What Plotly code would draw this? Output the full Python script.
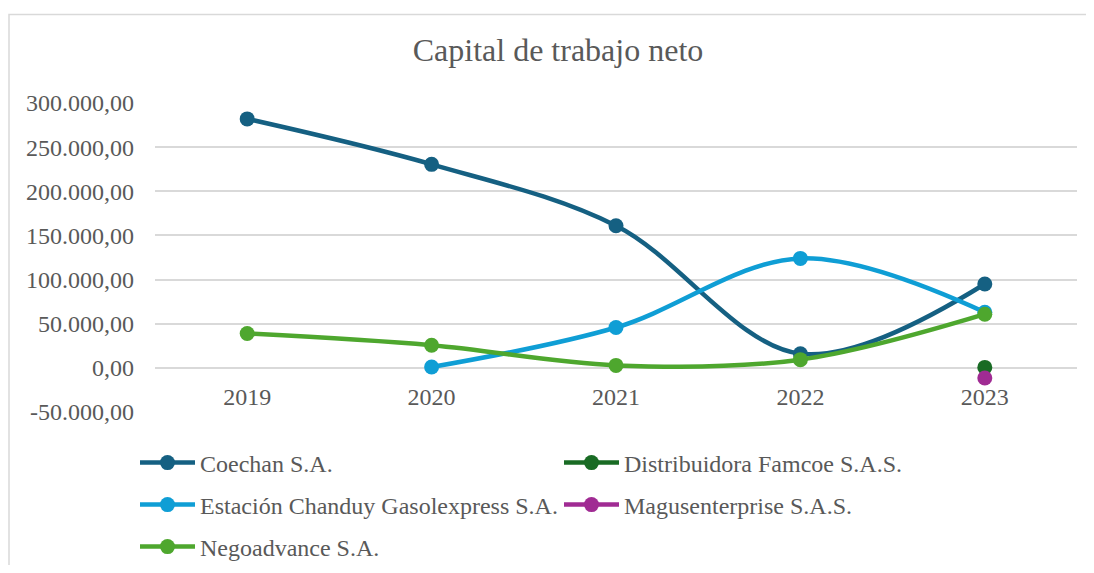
import plotly.graph_objects as go

years = ["2019", "2020", "2021", "2022", "2023"]
coechan = [282000, 230500, 161000, 16000, 95000]
famcoe = [None, None, None, None, 500]
estacion = [None, 900, 45700, 124000, 63000]
magus = [None, None, None, None, -11500]
negoadvance = [38900, 25600, 2800, 9300, 60800]

names = ["Coechan S.A.", "Distribuidora Famcoe S.A.S.", "Estación Chanduy Gasolexpress S.A.",
         "Magusenterprise S.A.S.", "Negoadvance S.A."]
colors = ["#156082", "#196B24", "#0F9ED5", "#A02B93", "#4EA72E"]
series = [coechan, famcoe, estacion, magus, negoadvance]
legend_ids = ["legend", "legend", "legend2", "legend2", "legend3"]

y_tickvals = [-50000, 0, 50000, 100000, 150000, 200000, 250000, 300000]
y_ticktext = ["-50.000,00", "0,00", "50.000,00", "100.000,00", "150.000,00",
              "200.000,00", "250.000,00", "300.000,00"]

FONT = "Liberation Serif, Times New Roman, serif"
TXT = "#595959"
GRID = "#D9D9D9"

fig = go.Figure()
for name, col, vals, lg in zip(names, colors, series, legend_ids):
    fig.add_trace(go.Scatter(
        x=years, y=vals, name=name, mode="lines+markers",
        line=dict(color=col, width=4.5, shape="spline", smoothing=1.0),
        marker=dict(color=col, size=15),
        connectgaps=False, legend=lg,
    ))

OFF = 8  # page body margin (all sides)
W, H = 1094 - 2 * OFF, 573 - 2 * OFF
L, R, T, B = 155 - OFF, 1077 - OFF, 103 - OFF, 412 - OFF
pw, ph = R - L, B - T

def px_to_paper_x(x):
    return (x - OFF - L) / pw

def px_to_paper_y(y):
    return (B - (y - OFF)) / ph

legend_common = dict(
    orientation="h", font=dict(family=FONT, size=24, color=TXT),
    entrywidth=354, entrywidthmode="pixels", itemwidth=55,
    xanchor="left", yanchor="middle", bgcolor="rgba(0,0,0,0)",
)

fig.update_layout(
    width=W, height=H,
    margin=dict(l=L, r=W - R, t=T, b=H - B, pad=0, autoexpand=False),
    paper_bgcolor="white", plot_bgcolor="white",
    separators=",.",
    title=dict(text="Capital de trabajo neto", x=(558 - OFF) / W, xref="container", xanchor="center",
               y=1 - (50 - OFF) / H, yref="container", yanchor="middle",
               font=dict(family=FONT, size=32, color=TXT)),
    font=dict(family=FONT, size=24, color=TXT),
    xaxis=dict(type="category", range=[-0.5, 4.5], showgrid=False, zeroline=False,
               showline=False, ticks="", anchor="free",
               position=(0 - (-50000)) / 350000,
               tickfont=dict(family=FONT, size=24, color=TXT), ticklabelstandoff=12),
    yaxis=dict(range=[-50000, 300000], tickvals=y_tickvals, ticktext=y_ticktext,
               showgrid=True, gridcolor=GRID, gridwidth=1.5, zeroline=True,
               zerolinecolor=GRID, zerolinewidth=1.5, showline=False, ticks="",
               tickfont=dict(family=FONT, size=24, color=TXT), ticklabelstandoff=20),
    legend=dict(x=px_to_paper_x(135), y=px_to_paper_y(463), **legend_common),
    legend2=dict(x=px_to_paper_x(135), y=px_to_paper_y(505), **legend_common),
    legend3=dict(x=px_to_paper_x(135), y=px_to_paper_y(547), **legend_common),
    showlegend=True,
    shapes=[dict(type="rect", xref="paper", yref="paper",
                 x0=px_to_paper_x(9), x1=px_to_paper_x(1200),
                 y0=px_to_paper_y(700), y1=px_to_paper_y(14.5),
                 line=dict(color=GRID, width=1.5), fillcolor="rgba(0,0,0,0)", layer="below")],
)

fig.write_html("out.html")
